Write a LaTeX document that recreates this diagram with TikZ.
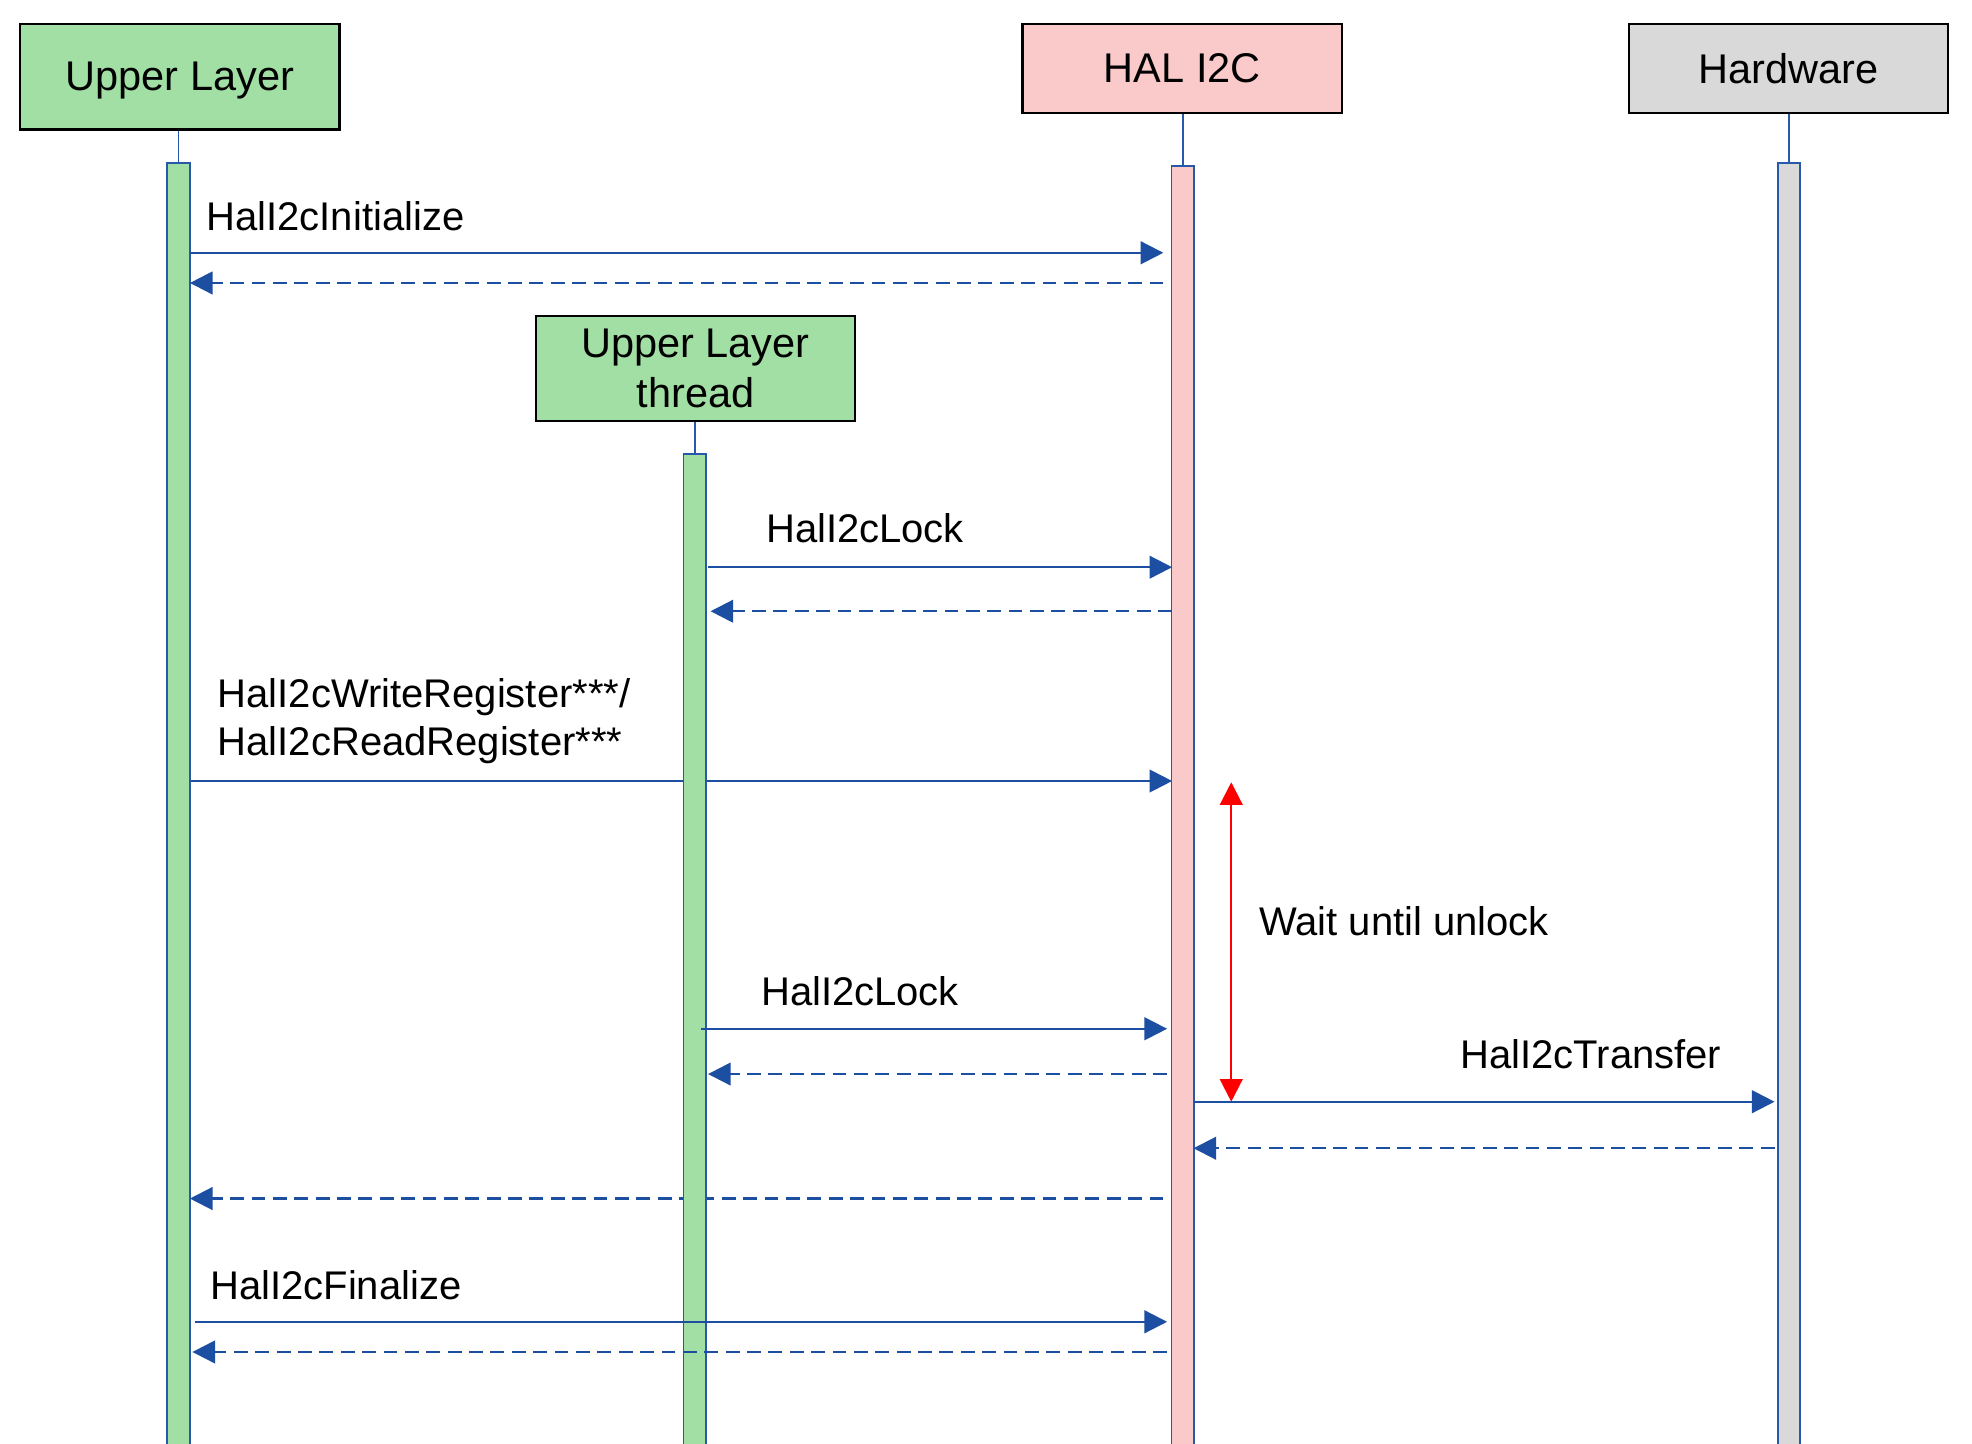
\documentclass[tikz,border=0pt]{standalone}
\usepackage{fontspec}
\setmainfont{Liberation Sans}
\usetikzlibrary{arrows.meta}
\definecolor{ulgreen}{RGB}{162,223,164}
\definecolor{halpink}{RGB}{250,202,202}
\definecolor{hwgray}{RGB}{217,217,217}
\definecolor{msgblue}{RGB}{28,78,162}
\definecolor{barblue}{RGB}{40,88,170}
\begin{document}
\begin{tikzpicture}[x=1pt,y=-1pt,
  actor/.style={draw=black,line width=1.8pt,minimum width=254pt,inner sep=0pt,
    font=\fontsize{33}{40}\selectfont,align=center},
  actbar/.style={draw=barblue,line width=1.4pt,minimum width=18pt,minimum height=1100pt,
    inner sep=0pt,anchor=north},
  stub/.style={draw=barblue,line width=1.4pt},
  msg/.style={draw=msgblue,line width=1.8pt,-{Triangle[length=18pt,width=18pt]}},
  ret/.style={msg,dash pattern=on 11pt off 6pt},
  lbl/.style={anchor=base west,inner sep=0pt,font=\fontsize{31.8}{38}\selectfont,align=left},
  wait/.style={draw=red,line width=1.8pt,{Triangle[length=18pt,width=18pt]}-{Triangle[length=18pt,width=18pt]}}]
\clip (0,0) rectangle (1568,1147.4);
\fill[white] (0,0) rectangle (1568,1147.4);

% endpoints
\coordinate (m5s) at (151,621);
\coordinate (m5e) at (932,621);
\coordinate (m12s) at (925,953);
\coordinate (m12e) at (151,953);

% messages hidden behind the thread bar
\draw[msg] (m5s) -- (m5e);
\draw[ret] (m12s) -- (m12e);

% actors
\node[actor,fill=ulgreen,minimum height=84pt,text depth=0pt] (ul) at (143,61) {Upper Layer};
\node[actor,fill=halpink,minimum height=71pt] (hal) at (940,54.5) {HAL I2C};
\node[actor,fill=hwgray,minimum height=71pt] (hw) at (1422,54.5) {Hardware};
\node[actor,fill=ulgreen,minimum height=84pt] (ult) at (553,293) {Upper Layer\\thread};

% activation bars
\node[actbar,fill=ulgreen] (ulbar) at (142,129) {};
\node[actbar,fill=halpink] (halbar) at (940.5,131) {};
\node[actbar,fill=hwgray] (hwbar) at (1422.5,129) {};
\node[actbar,fill=ulgreen] (ultbar) at (552.5,360) {};

\draw[stub] (ulbar.north) -- (ulbar.north |- ul.south);
\draw[stub] (halbar.north) -- (halbar.north |- hal.south);
\draw[stub] (hwbar.north) -- (hwbar.north |- hw.south);
\draw[stub] (ultbar.north) -- (ultbar.north |- ult.south);

% coordinates of the other messages
\coordinate (m1s) at (151,201);   \coordinate (m1e) at (925,201);
\coordinate (m2s) at (925,225);   \coordinate (m2e) at (151,225);
\coordinate (m3s) at (563,451);   \coordinate (m3e) at (932,451);
\coordinate (m4s) at (932,486);   \coordinate (m4e) at (565,486);
\coordinate (m8s) at (557,818);   \coordinate (m8e) at (928,818);
\coordinate (m9s) at (928,854);   \coordinate (m9e) at (563,854);
\coordinate (m10s) at (949,876);  \coordinate (m10e) at (1411,876);
\coordinate (m11s) at (1411,913); \coordinate (m11e) at (949,913);
\coordinate (m13s) at (155,1051); \coordinate (m13e) at (928,1051);
\coordinate (m14s) at (928,1075); \coordinate (m14e) at (153,1075);
\coordinate (w1) at (979,622);    \coordinate (w2) at (979,876);

\draw[msg] (m1s) -- (m1e);
\draw[ret] (m2s) -- (m2e);
\draw[msg] (m3s) -- (m3e);
\draw[ret] (m4s) -- (m4e);
\draw[msg] (m8s) -- (m8e);
\draw[ret] (m9s) -- (m9e);
\draw[msg] (m10s) -- (m10e);
\draw[ret] (m11s) -- (m11e);
\draw[msg] (m13s) -- (m13e);
\draw[ret] (m14s) -- (m14e);
\draw[wait] (w1) -- (w2);

% labels
\node[lbl] (l1) at (164,183.5) {HalI2cInitialize};
\node[lbl] (l3) at (609,431.5) {HalI2cLock};
\node[lbl] (l5a) at (173,562.5) {HalI2cWriteRegister***/};
\node[lbl] (l5b) at (173,600.5) {HalI2cReadRegister***};
\node[lbl] (lw) at (1001,743.5) {Wait until unlock};
\node[lbl] (l8) at (605,799.5) {HalI2cLock};
\node[lbl] (l10) at (1161,849.5) {HalI2cTransfer};
\node[lbl] (l13) at (167,1033.5) {HalI2cFinalize};
\end{tikzpicture}
\end{document}
